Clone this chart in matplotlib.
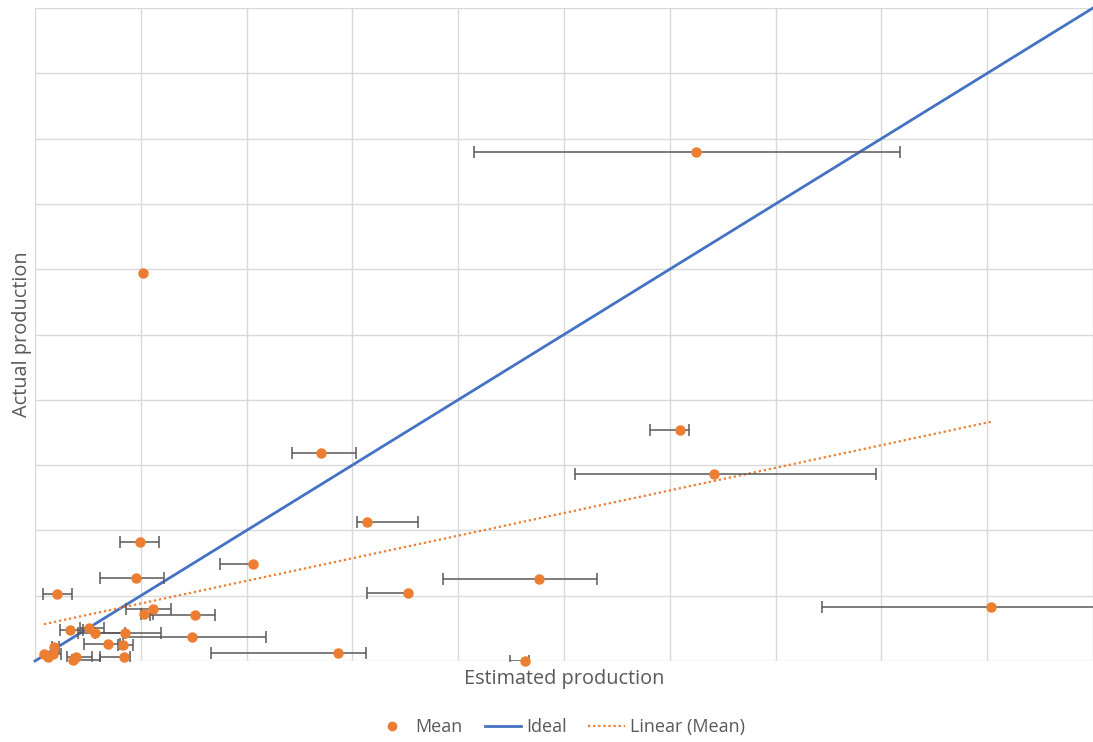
import numpy as np
import matplotlib.pyplot as plt
from matplotlib.lines import Line2D

# estimated production (mean, lower and upper estimate) and actual production
est_mean = [6.245, 1.02, 2.70, 6.10, 6.42, 3.14, 0.99, 2.06, 0.955, 4.76, 0.21, 3.53,
            9.04, 1.115, 1.03, 1.51, 0.33, 0.51, 0.57, 0.85, 1.48, 0.18, 0.69, 0.83,
            0.085, 0.125, 0.17, 0.39, 0.36, 0.84, 2.86, 4.63]
est_low = [4.147, 1.02, 2.43, 5.81, 5.10, 3.04, 0.80, 1.75, 0.61, 3.855, 0.076, 3.14,
           7.435, 0.86, 1.00, 1.09, 0.24, 0.43, 0.41, 0.57, 0.83, 0.16, 0.46, 0.78,
           0.085, 0.125, 0.17, 0.30, 0.35, 0.61, 1.66, 4.49]
est_high = [8.172, 1.02, 3.03, 6.18, 7.95, 3.62, 1.17, 2.06, 1.22, 5.31, 0.35, 3.53,
            10.6, 1.29, 1.115, 1.70, 0.45, 0.655, 0.85, 1.19, 2.18, 0.23, 0.80, 0.93,
            0.085, 0.125, 0.25, 0.54, 0.61, 0.90, 3.13, 4.67]
actual = [7.795, 5.94, 3.185, 3.54, 2.86, 2.13, 1.82, 1.485, 1.27, 1.255, 1.03, 1.04,
          0.83, 0.80, 0.72, 0.70, 0.48, 0.505, 0.43, 0.43, 0.37, 0.215, 0.26, 0.245,
          0.11, 0.06, 0.10, 0.06, 0.015, 0.06, 0.12, 0.0]

axis_max = 10

orange = "#ED7D31"
blue = "#4472C4"
grey_txt = "#595959"

plt.rcParams['font.family'] = ['Open Sans', 'DejaVu Sans']

x = np.array(est_mean)
y = np.array(actual)
lo = np.array(est_low)
hi = np.array(est_high)

fig = plt.figure(figsize=(10.93, 7.42), dpi=100)
ax = fig.add_axes([35 / 1093, 1 - 661 / 742, 1 - 35 / 1093, (661 - 8) / 742])

ax.set_xlim(0, axis_max)
ax.set_ylim(0, axis_max)
ax.set_xticks(np.arange(0, axis_max + 1, 1))
ax.set_yticks(np.arange(0, axis_max + 1, 1))
ax.grid(True, color="#D9D9D9", linewidth=1)
ax.tick_params(length=0, labelbottom=False, labelleft=False)
for s in ax.spines.values():
    s.set_visible(False)
ax.set_axisbelow(True)

# ideal line
ax.plot([0, axis_max], [0, axis_max], color=blue, linewidth=2, zorder=3, clip_on=False)

# linear trend of the means
k, b = np.polyfit(x, y, 1)
tx = np.array([x.min(), x.max()])
ax.plot(tx, k * tx + b, color=orange, linestyle=(0, (1, 1.3)), linewidth=1.6, zorder=3)

# horizontal error bars, caps only where there is an error
ax.hlines(y, lo, hi, color=grey_txt, linewidth=1.1, zorder=4)
m = lo < x
ax.plot(lo[m], y[m], "|", color=grey_txt, markersize=8, markeredgewidth=1.1, zorder=4)
m = (hi > x) & (hi <= axis_max)
ax.plot(hi[m], y[m], "|", color=grey_txt, markersize=8, markeredgewidth=1.1, zorder=4)

ax.plot(x, y, "o", color=orange, markersize=6.5, zorder=5, clip_on=False)

ax.set_xlabel("Estimated production", fontsize=14.3, color=grey_txt, labelpad=6)
ax.set_ylabel("Actual production", fontsize=14.3, color=grey_txt, labelpad=2)

handles = [
    Line2D([], [], marker="o", color=orange, linestyle="none", markersize=6),
    Line2D([], [], color=blue, linewidth=2),
    Line2D([], [], color=orange, linestyle=(0, (1, 1.3)), linewidth=1.6),
]
fig.legend(handles, ["Mean", "Ideal", "Linear (Mean)"], loc="center",
           bbox_to_anchor=(0.512, 1 - 727 / 742), ncol=3, frameon=False,
           fontsize=13, labelcolor=grey_txt, handlelength=2.0, columnspacing=1.2,
           handletextpad=0.3)

fig.savefig("out.png", dpi=100)
